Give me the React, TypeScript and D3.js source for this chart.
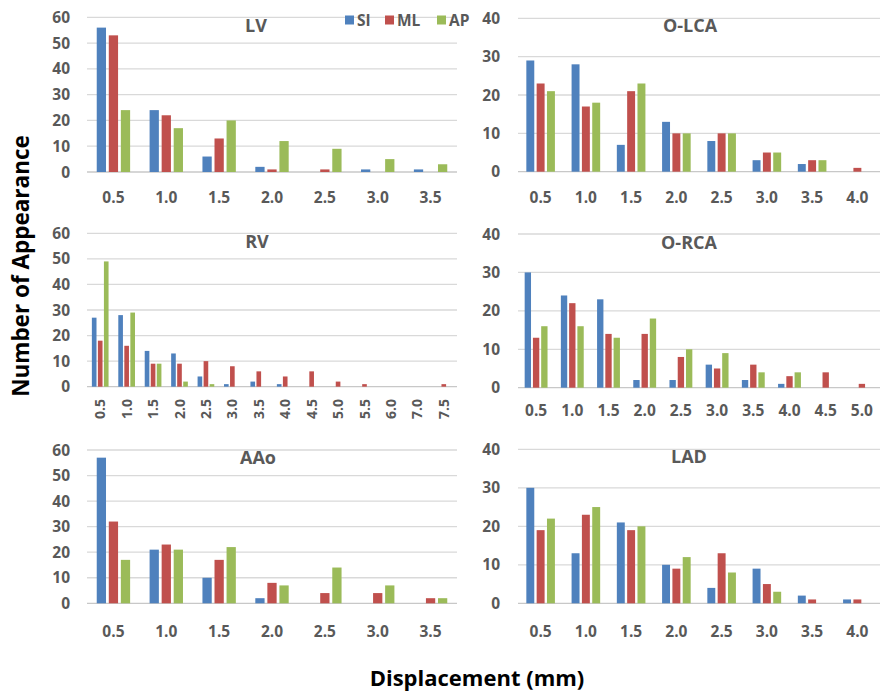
import React from "react";
import * as d3 from "d3";

const series = ["SI", "ML", "AP"];
const colors = ["#4f81bd", "#c0504d", "#9bbb59"];

const lvCats = ["0.5", "1.0", "1.5", "2.0", "2.5", "3.0", "3.5"];
const lvSI = [56, 24, 6, 2, 0, 1, 1];
const lvML = [53, 22, 13, 1, 1, 0, 0];
const lvAP = [24, 17, 20, 12, 9, 5, 3];

const olcaCats = ["0.5", "1.0", "1.5", "2.0", "2.5", "3.0", "3.5", "4.0"];
const olcaSI = [29, 28, 7, 13, 8, 3, 2, 0];
const olcaML = [23, 17, 21, 10, 10, 5, 3, 1];
const olcaAP = [21, 18, 23, 10, 10, 5, 3, 0];

const rvCats = ["0.5", "1.0", "1.5", "2.0", "2.5", "3.0", "3.5", "4.0", "4.5", "5.0", "5.5", "6.0", "7.0", "7.5"];
const rvSI = [27, 28, 14, 13, 4, 1, 2, 1, 0, 0, 0, 0, 0, 0];
const rvML = [18, 16, 9, 9, 10, 8, 6, 4, 6, 2, 1, 0, 0, 1];
const rvAP = [49, 29, 9, 2, 1, 0, 0, 0, 0, 0, 0, 0, 0, 0];

const orcaCats = ["0.5", "1.0", "1.5", "2.0", "2.5", "3.0", "3.5", "4.0", "4.5", "5.0"];
const orcaSI = [30, 24, 23, 2, 2, 6, 2, 1, 0, 0];
const orcaML = [13, 22, 14, 14, 8, 5, 6, 3, 4, 1];
const orcaAP = [16, 16, 13, 18, 10, 9, 4, 4, 0, 0];

const aaoCats = ["0.5", "1.0", "1.5", "2.0", "2.5", "3.0", "3.5"];
const aaoSI = [57, 21, 10, 2, 0, 0, 0];
const aaoML = [32, 23, 17, 8, 4, 4, 2];
const aaoAP = [17, 21, 22, 7, 14, 7, 2];

const ladCats = ["0.5", "1.0", "1.5", "2.0", "2.5", "3.0", "3.5", "4.0"];
const ladSI = [30, 13, 21, 10, 4, 9, 2, 1];
const ladML = [19, 23, 19, 9, 13, 5, 1, 1];
const ladAP = [22, 25, 20, 12, 8, 3, 0, 0];

const ticks60 = [0, 10, 20, 30, 40, 50, 60];
const ticks40 = [0, 10, 20, 30, 40];

const FONT = "'Open Sans', 'Noto Sans', sans-serif";
const GRAY = "#595959";

type PanelProps = {
  title: string;
  cats: string[];
  data: number[][];
  ticks: number[];
  x0: number;
  x1: number;
  yTop: number;
  yBase: number;
  labelY: number;
  titleX: number;
  titleY: number;
  tickX: number;
  rotate?: boolean;
};

function Panel(p: PanelProps) {
  const max = p.ticks[p.ticks.length - 1];
  const y = d3.scaleLinear().domain([0, max]).range([p.yBase, p.yTop]);
  const x = d3.scaleBand<string>().domain(p.cats).range([p.x0, p.x1]);
  const band = x.bandwidth();
  const bw = band / 5.7;
  const gap = bw * 0.3;
  const groupW = 3 * bw + 2 * gap;
  return (
    <g>
      {p.ticks.map((t) => (
        <g key={t}>
          <line x1={p.x0} x2={p.x1} y1={y(t)} y2={y(t)} stroke={t === 0 ? "#c8c8c8" : "#d9d9d9"} strokeWidth={1.3} />
          <text x={p.tickX} y={y(t)} dy="0.36em" textAnchor="end" fontSize={15.5} fontWeight="bold" fill={GRAY} fontFamily={FONT}>
            {t}
          </text>
        </g>
      ))}
      {p.cats.map((c, i) => {
        const cx = (x(c) as number) + band / 2;
        return (
          <g key={c}>
            {p.data.map((vals, s) => {
              const bx = cx - groupW / 2 + s * (bw + gap);
              const v = vals[i];
              if (!v) return null;
              return <rect key={s} x={bx} y={y(v)} width={bw} height={y(0) - y(v)} fill={colors[s]} />;
            })}
            {p.rotate ? (
              <text
                transform={`translate(${cx},${p.labelY}) rotate(-90)`}
                dy="0.36em"
                textAnchor="end"
                fontSize={14}
                fontWeight="bold"
                fill={GRAY}
                fontFamily={FONT}
              >
                {c}
              </text>
            ) : (
              <text x={cx} y={p.labelY} dy="0.36em" textAnchor="middle" fontSize={15.5} fontWeight="bold" fill={GRAY} fontFamily={FONT}>
                {c}
              </text>
            )}
          </g>
        );
      })}
      <text x={p.titleX} y={p.titleY} dy="0.36em" textAnchor="middle" fontSize={18} fontWeight="bold" fill={GRAY} fontFamily={FONT}>
        {p.title}
      </text>
    </g>
  );
}

export default function App() {
  const L0 = 87, L1 = 457, R0 = 518, R1 = 880;
  const legendX = [345, 385, 437];
  return (
    <svg width={881} height={691} style={{ position: "absolute", left: 0, top: 0, background: "#fff" }}>
      <rect width={881} height={691} fill="#fff" />
      <Panel title="LV" cats={lvCats} data={[lvSI, lvML, lvAP]} ticks={ticks60} x0={L0} x1={L1} yTop={17.3} yBase={172} labelY={197} titleX={256} titleY={26} tickX={70} />
      <Panel title="O-LCA" cats={olcaCats} data={[olcaSI, olcaML, olcaAP]} ticks={ticks40} x0={R0} x1={R1} yTop={18.3} yBase={171.7} labelY={197} titleX={690} titleY={26} tickX={500} />
      <Panel title="RV" cats={rvCats} data={[rvSI, rvML, rvAP]} ticks={ticks60} x0={L0} x1={L1} yTop={233.3} yBase={386.7} labelY={399} titleX={257} titleY={242} tickX={70} rotate />
      <Panel title="O-RCA" cats={orcaCats} data={[orcaSI, orcaML, orcaAP]} ticks={ticks40} x0={R0} x1={R1} yTop={234} yBase={387.7} labelY={410} titleX={689} titleY={243} tickX={500} />
      <Panel title="AAo" cats={aaoCats} data={[aaoSI, aaoML, aaoAP]} ticks={ticks60} x0={L0} x1={L1} yTop={450} yBase={603.3} labelY={631} titleX={258} titleY={458} tickX={70} />
      <Panel title="LAD" cats={ladCats} data={[ladSI, ladML, ladAP]} ticks={ticks40} x0={R0} x1={R1} yTop={449.3} yBase={603.3} labelY={631} titleX={689} titleY={457} tickX={500} />
      {series.map((s, i) => (
        <g key={s}>
          <rect x={legendX[i]} y={15.5} width={9} height={9} fill={colors[i]} />
          <text x={legendX[i] + 12} y={20} dy="0.36em" fontSize={15.5} fontWeight="bold" fill={GRAY} fontFamily={FONT}>
            {s}
          </text>
        </g>
      ))}
      <text transform="translate(21,266) rotate(-90)" dy="0.36em" textAnchor="middle" fontSize={22.5} fontWeight="bold" fill="#000" fontFamily={FONT}>
        Number of Appearance
      </text>
      <text x={477} y={678} dy="0.36em" textAnchor="middle" fontSize={22} fontWeight="bold" fill="#000" fontFamily={FONT}>
        Displacement (mm)
      </text>
    </svg>
  );
}
